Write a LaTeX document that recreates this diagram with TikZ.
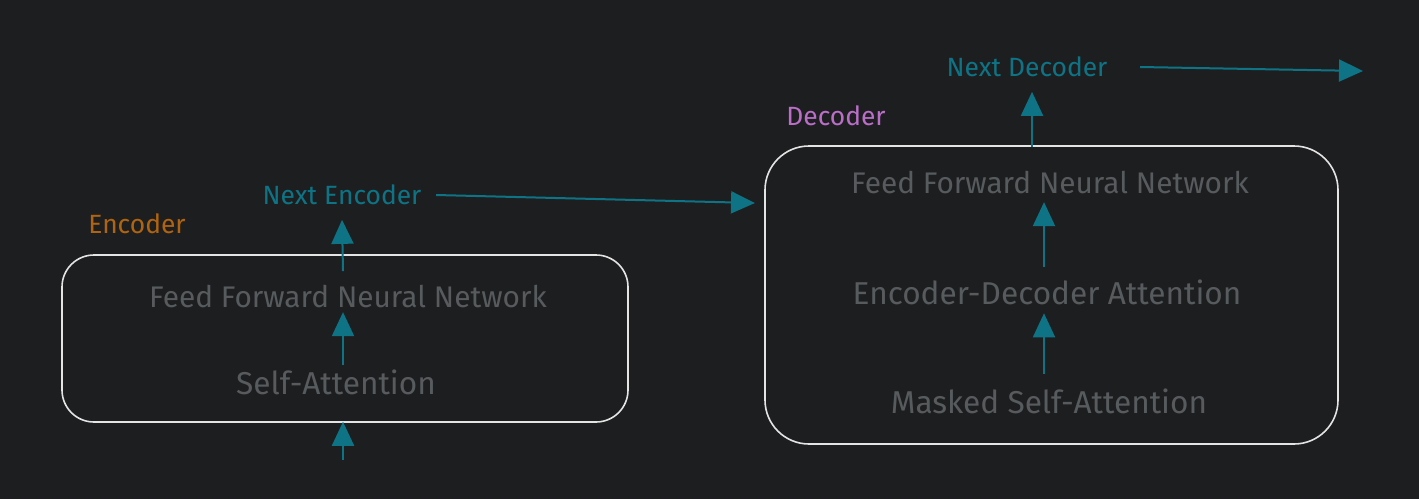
\documentclass[tikz,border=0pt]{standalone}
\usepackage{fontspec}
\setmainfont{Fira Sans}
\usetikzlibrary{arrows.meta}
\definecolor{bg}{RGB}{29,30,32}
\definecolor{boxline}{RGB}{228,228,228}
\definecolor{label}{RGB}{88,91,94}
\definecolor{flowc}{RGB}{14,116,133}
\definecolor{enccol}{RGB}{176,100,16}
\definecolor{deccol}{RGB}{186,110,200}
\begin{document}
\begin{tikzpicture}[x=0.5pt, y=-0.5pt, thick,
  main/.style = {text=label, font=\fontsize{15.8}{17}\selectfont, inner sep=2pt},
  wide/.style = {font=\fontsize{14.9}{16}\selectfont},
  tag/.style = {font=\fontsize{13.2}{15}\selectfont, inner sep=2pt},
  block/.style = {draw=boxline, line width=0.8pt, rounded corners=16pt},
  flow/.style = {-{Triangle[length=12pt,width=11pt]}, draw=flowc, line width=1pt}]
\fill[bg] (0,0) rectangle (1419,499);
% encoder
\node[block, minimum width=283pt, minimum height=83.5pt] (encbox) at (345,338.5) {};
\node[main, wide] (ffn1) at (348,296) {Feed Forward Neural Network};
\node[main] (sa1) at (336,382) {Self-Attention};
\node[tag, text=enccol] (enc) at (137,224) {Encoder};
\node[tag, text=flowc] (nextenc) at (342,195) {Next Encoder};
\coordinate (encin) at (343,460);
\draw[flow] (encin) -- (encbox.south -| encin) -- ++(0,-1);
\draw[flow] (sa1.north -| encin) -- (ffn1.south -| encin);
\draw[flow] ([yshift=-17pt/2]encbox.north -| encin) -- ([yshift=-5pt]nextenc.south);
% decoder
\node[block, minimum width=286.5pt, minimum height=149pt, rounded corners=22pt] (decbox) at (1051.5,295) {};
\node[main, wide] (ffn2) at (1050,182) {Feed Forward Neural Network};
\node[main] (eda) at (1047,292) {Encoder-Decoder Attention};
\node[main] (msa) at (1049,401) {Masked Self-Attention};
\node[tag, text=deccol] (dec) at (836,116) {Decoder};
\node[tag, text=flowc] (nextdec) at (1027,67) {Next Decoder};
\coordinate (decin) at (755,203);
\coordinate (decout) at (1363,71);
\draw[flow] ([yshift=5pt]msa.north -| 1044,0) -- ([yshift=-2pt]eda.south -| 1044,0);
\draw[flow] ([yshift=4pt]eda.north -| 1044,0) -- ([yshift=-2pt]ffn2.south -| 1044,0);
\draw[flow] ([yshift=-1pt]decbox.north -| 1032,0) -- ([yshift=-5pt]nextdec.south -| 1032,0);
% links
\draw[flow] ([xshift=5pt]nextenc.east) -- (decin);
\draw[flow] ([xshift=14pt]nextdec.east) -- (decout);
\end{tikzpicture}
\end{document}
